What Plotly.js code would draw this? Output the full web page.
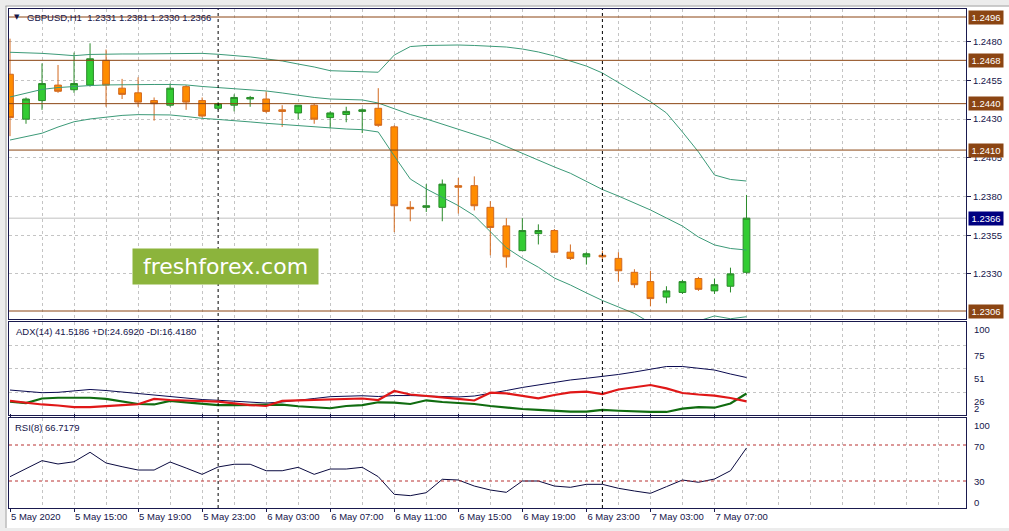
<!DOCTYPE html>
<html>
<head>
<meta charset="utf-8">
<script src="https://cdn.plot.ly/plotly-3.0.1.min.js"></script>
<style>
html,body{margin:0;padding:0;background:#fff;}
#chart{width:1009px;height:531px;}
</style>
</head>
<body>
<div id="chart"></div>
<script>
// ---- data (GBPUSD H1, bar index 0 = 5 May 11:00) ----
const symbolTitle = 'GBPUSD,H1';
const open  = [1.2459,1.2430,1.2442,1.2452,1.2449,1.2452,1.2468,1.2450,1.2447,1.2442,1.2439,1.2451,1.2442,1.2437,1.2439,1.2443,1.2443,1.2436,1.2434,1.2439,1.2431,1.2433,1.2435,1.2437,1.2425,1.2373,1.2373,1.2373,1.2387,1.2387,1.2373,1.2361,1.2345,1.2356,1.2358,1.2344,1.2341,1.2342,1.2340,1.2331,1.2325,1.2315,1.2318,1.2327,1.2319,1.2322,1.2331];
const high  = [1.2482,1.2444,1.2466,1.2465,1.2473,1.2479,1.2475,1.2456,1.2457,1.2444,1.2453,1.2452,1.2444,1.2441,1.2446,1.2445,1.2448,1.2439,1.2439,1.2440,1.2435,1.2438,1.2437,1.2450,1.2426,1.2377,1.2388,1.2391,1.2392,1.2393,1.2377,1.2366,1.2366,1.2362,1.2359,1.2349,1.2344,1.2345,1.2344,1.2333,1.2332,1.2322,1.2326,1.2328,1.2327,1.2334,1.2381];
const low   = [1.2419,1.2427,1.2436,1.2447,1.2447,1.2451,1.2438,1.2443,1.2438,1.2429,1.2438,1.2436,1.2431,1.2436,1.2435,1.2438,1.2434,1.2425,1.2430,1.2427,1.2424,1.2428,1.2421,1.2425,1.2357,1.2364,1.2370,1.2364,1.2369,1.2371,1.2342,1.2334,1.2345,1.2349,1.2344,1.2339,1.2336,1.2339,1.2325,1.2321,1.2309,1.2311,1.2317,1.2319,1.2317,1.2318,1.2330];
const close = [1.2431,1.2443,1.2453,1.2448,1.2453,1.2469,1.2452,1.2446,1.2441,1.2440,1.2450,1.2441,1.2432,1.2440,1.2444,1.2444,1.2435,1.2435,1.2439,1.2430,1.2434,1.2435,1.2436,1.2426,1.2374,1.2372,1.2374,1.2388,1.2386,1.2374,1.2360,1.2341,1.2358,1.2358,1.2344,1.2340,1.2343,1.2341,1.2332,1.2323,1.2314,1.2319,1.2325,1.2320,1.2323,1.2330,1.2366];

const bbUpper  = [1.24732,1.24729,1.24725,1.24718,1.24710,1.24718,1.24721,1.24721,1.24721,1.24723,1.24725,1.24725,1.24725,1.24719,1.24711,1.24702,1.24689,1.24676,1.24656,1.24637,1.24613,1.24609,1.24607,1.24603,1.24714,1.24769,1.24776,1.24779,1.24779,1.24776,1.24773,1.24766,1.24753,1.24734,1.24708,1.24676,1.24643,1.24598,1.24534,1.24475,1.24413,1.24340,1.24217,1.24088,1.23939,1.23910,1.23900];
const bbMiddle = [1.24443,1.24469,1.24492,1.24504,1.24512,1.24517,1.24521,1.24523,1.24524,1.24524,1.24524,1.24521,1.24511,1.24504,1.24498,1.24492,1.24482,1.24469,1.24453,1.24440,1.24430,1.24427,1.24424,1.24404,1.24366,1.24330,1.24301,1.24269,1.24236,1.24201,1.24168,1.24123,1.24078,1.24033,1.23991,1.23950,1.23900,1.23845,1.23803,1.23758,1.23713,1.23661,1.23609,1.23538,1.23487,1.23464,1.23454];
const bbLower  = [1.24165,1.24185,1.24209,1.24249,1.24283,1.24301,1.24314,1.24324,1.24329,1.24329,1.24327,1.24317,1.24305,1.24298,1.24288,1.24282,1.24273,1.24265,1.24259,1.24249,1.24241,1.24236,1.24232,1.24217,1.24062,1.23913,1.23849,1.23797,1.23741,1.23676,1.23573,1.23469,1.23401,1.23343,1.23273,1.23228,1.23177,1.23128,1.23086,1.23044,1.22983,1.22957,1.22963,1.22996,1.23028,1.23010,1.23023];

const adx     = [28.3,26.8,25.5,25.9,27.3,28.9,27.8,26.2,24.1,23.1,21.3,19.4,18.3,17.5,16.4,15.2,14.6,15.7,17.3,19.4,21.3,22.0,22.3,21.5,22.5,22.5,22.0,21.5,21.0,22.0,24.7,27.8,31.0,33.6,36.2,38.9,40.7,42.4,44.7,47.3,50.5,53.1,53.1,51.5,49.4,45.2,41.5186];
const plusDI  = [16.0,14.6,19.4,20.2,20.2,20.2,18.9,16.2,13.6,13.1,16.8,15.2,13.6,12.5,12.5,12.5,12.5,12.9,11.2,9.9,9.1,11.5,12.5,15.4,15.0,13.6,17.5,15.7,14.6,13.6,11.5,9.7,8.3,7.3,6.2,5.5,5.5,7.3,6.5,5.5,5.2,5.2,8.8,10.4,9.7,14.1,24.6920];
const minusDI = [16.8,14.6,13.1,12.0,10.4,10.4,11.8,12.5,13.3,18.9,17.8,17.3,17.1,16.0,14.3,12.5,11.5,16.8,17.5,17.8,18.1,18.5,19.4,17.8,27.3,23.6,22.3,21.0,18.9,17.3,25.5,24.7,22.0,19.6,23.1,25.9,26.6,24.1,28.9,31.0,33.6,30.1,25.2,23.6,22.5,19.9,16.4180];
const rsi     = [34.8,43.9,52.6,48.9,51.4,61.9,50.0,45.9,42.2,42.2,51.1,44.4,37.4,45.6,48.6,48.6,41.4,41.4,45.2,37.4,43.3,43.3,45.2,34.8,15.2,13.7,17.0,31.9,31.1,24.4,20.0,17.4,30.0,30.0,24.4,23.0,26.3,26.3,21.9,18.9,16.3,23.7,31.1,28.6,32.2,41.4,66.7179];

const timeLabels = ['5 May 2020','5 May 15:00','5 May 19:00','5 May 23:00','6 May 03:00','6 May 07:00','6 May 11:00','6 May 15:00','6 May 19:00','6 May 23:00','7 May 03:00','7 May 07:00'];
const barsPerLabel = 4;
const daySeparatorBars = [13, 37];           // 6 May 00:00, 7 May 00:00
const levelLines = [1.2496, 1.2468, 1.2440, 1.2410, 1.2306];
const priceTicks = [1.2330, 1.2355, 1.2380, 1.2405, 1.2430, 1.2455, 1.2480];
const adxGrid = [26, 51, 75];
const adxLabels = ['100','75','51','26','2'];
const rsiLevels = [30, 70];
const rsiLabels = ['100','70','30','0'];
const watermark = 'freshforex.com';

// ---- derived ----
const xs = close.map((_, i) => i);
const last = close.length - 1;
const tickIdx = timeLabels.map((_, i) => i * barsPerLabel);
const fmt = v => v.toFixed(4);

const FONT = 'Liberation Sans, Arial, sans-serif';
const TXT = '#14144a';
const FRAME = '#1a1a4e';
const GRID = '#c4c4c4';

// pixel helpers for paper placement (plot area 9..966 x 9..508)
const PX = px => (px - 9) / 957;
const PY = py => (508 - py) / 499;

const traces = [
  {
    type: 'candlestick', x: xs, open: open, high: high, low: low, close: close,
    xaxis: 'x', yaxis: 'y', whiskerwidth: 0,
    increasing: {line: {color: '#2a8a2a', width: 1}, fillcolor: '#33cc33'},
    decreasing: {line: {color: '#d2691e', width: 1}, fillcolor: '#ff8c00'},
    hoverinfo: 'skip'
  },
  {type: 'scatter', mode: 'lines', x: xs, y: bbUpper, yaxis: 'y', line: {color: '#3c9a78', width: 1}, hoverinfo: 'skip'},
  {type: 'scatter', mode: 'lines', x: xs, y: bbMiddle, yaxis: 'y', line: {color: '#3c9a78', width: 1}, hoverinfo: 'skip'},
  {type: 'scatter', mode: 'lines', x: xs, y: bbLower, yaxis: 'y', line: {color: '#3c9a78', width: 1}, hoverinfo: 'skip'},
  {type: 'scatter', mode: 'lines', x: xs, y: adx, yaxis: 'y2', line: {color: '#0a0a50', width: 1}, hoverinfo: 'skip'},
  {type: 'scatter', mode: 'lines', x: xs, y: plusDI, yaxis: 'y2', line: {color: '#106c10', width: 2.2}, hoverinfo: 'skip'},
  {type: 'scatter', mode: 'lines', x: xs, y: minusDI, yaxis: 'y2', line: {color: '#e01818', width: 2.2}, hoverinfo: 'skip'},
  {type: 'scatter', mode: 'lines', x: xs, y: rsi, yaxis: 'y3', line: {color: '#0a0a40', width: 1}, hoverinfo: 'skip'}
];

const shapes = [];
// window chrome
shapes.push({type:'rect', xref:'paper', yref:'paper', x0:PX(0), x1:PX(1009), y0:PY(5.5), y1:PY(0), fillcolor:'#ececec', line:{width:0}, layer:'above'});
shapes.push({type:'line', xref:'paper', yref:'paper', x0:PX(0), x1:PX(1009), y0:PY(6), y1:PY(6), line:{color:'#9a9a9a', width:1}, layer:'above'});
shapes.push({type:'rect', xref:'paper', yref:'paper', x0:PX(0), x1:PX(5.5), y0:PY(531), y1:PY(0), fillcolor:'#ececec', line:{width:0}, layer:'above'});
shapes.push({type:'line', xref:'paper', yref:'paper', x0:PX(6), x1:PX(6), y0:PY(531), y1:PY(6), line:{color:'#9a9a9a', width:1}, layer:'above'});
shapes.push({type:'rect', xref:'paper', yref:'paper', x0:PX(0), x1:PX(1009), y0:PY(531), y1:PY(528), fillcolor:'#ececec', line:{width:0}, layer:'above'});
// level lines
levelLines.forEach(v => shapes.push({type:'line', xref:'paper', yref:'y', x0:0, x1:1, y0:v, y1:v, line:{color:'#8b4513', width:1}}));
// bid line
shapes.push({type:'line', xref:'paper', yref:'y', x0:0, x1:1, y0:close[last], y1:close[last], line:{color:'#c0c0c0', width:1}, layer:'below'});
// RSI levels
rsiLevels.forEach(v => shapes.push({type:'line', xref:'paper', yref:'y3', x0:0, x1:1, y0:v, y1:v, line:{color:'#b83030', width:1, dash:'3px,3px'}}));
// day separators
daySeparatorBars.forEach(b => shapes.push({type:'line', xref:'x', yref:'paper', x0:b, x1:b, y0:0, y1:1, line:{color:'#000000', width:1, dash:'3px,3px'}}));

const annotations = [];
const boxFont = {family: FONT, size: 9.5, color: '#ffffff'};
levelLines.forEach(v => annotations.push({
  xref:'paper', yref:'y', x:PX(968), y:v, xanchor:'left', yanchor:'middle',
  text: fmt(v), showarrow:false, font: boxFont, bgcolor:'#8b4513',
  width:32, height:11, borderpad:1, align:'center'
}));
annotations.push({
  xref:'paper', yref:'y', x:PX(968), y:close[last], xanchor:'left', yanchor:'middle',
  text: fmt(close[last]), showarrow:false, font: boxFont, bgcolor:'#000080',
  width:32, height:11, borderpad:1, align:'center'
});
// headers
annotations.push({xref:'paper', yref:'paper', x:PX(12), y:PY(17), xanchor:'left', yanchor:'middle', text:'▼', showarrow:false, font:{family:'DejaVu Sans', size:7, color:TXT}});
annotations.push({xref:'paper', yref:'paper', x:PX(25), y:PY(17), xanchor:'left', yanchor:'middle', showarrow:false,
  text: symbolTitle + '  ' + [open[last], high[last], low[last], close[last]].map(fmt).join(' '), font:{family:FONT, size:9.5, color:TXT}});
annotations.push({xref:'paper', yref:'paper', x:PX(14), y:PY(331), xanchor:'left', yanchor:'middle', showarrow:false,
  text: 'ADX(14) ' + adx[last].toFixed(4) + ' +DI:' + plusDI[last].toFixed(4) + ' -DI:' + minusDI[last].toFixed(4), font:{family:FONT, size:9.5, color:TXT}});
annotations.push({xref:'paper', yref:'paper', x:PX(13), y:PY(427), xanchor:'left', yanchor:'middle', showarrow:false,
  text: 'RSI(8) ' + rsi[last].toFixed(4), font:{family:FONT, size:9.5, color:TXT}});
// sub-window scale labels
const adxLabelPx = [329, 355, 378, 401, 408.5];
adxLabels.forEach((t, i) => annotations.push({xref:'paper', yref:'paper', x:PX(972), y:PY(adxLabelPx[i]), xanchor:'left', yanchor:'middle', text:t, showarrow:false, font:{family:FONT, size:9.5, color:TXT}}));
const rsiLabelPx = [425, 446, 481, 502];
rsiLabels.forEach((t, i) => annotations.push({xref:'paper', yref:'paper', x:PX(972), y:PY(rsiLabelPx[i]), xanchor:'left', yanchor:'middle', text:t, showarrow:false, font:{family:FONT, size:9.5, color:TXT}}));
// watermark
annotations.push({xref:'paper', yref:'paper', x:PX(225.5), y:PY(266.5), xanchor:'center', yanchor:'middle', text:watermark, showarrow:false,
  font:{family:'DejaVu Sans', size:22, color:'#ffffff'}, bgcolor:'#8cb43c', width:181, height:31, borderpad:2});

const layout = {
  width: 1009, height: 531,
  margin: {l: 9, r: 43, t: 9, b: 23, pad: 0},
  paper_bgcolor: '#ffffff', plot_bgcolor: '#ffffff',
  showlegend: false, boxgap: 0.4, hovermode: false,
  font: {family: FONT, size: 9.5, color: TXT},
  xaxis: {
    anchor: 'y3', range: [-0.0625, 59.71], rangeslider: {visible: false},
    tickmode: 'array', tickvals: tickIdx, ticktext: timeLabels,
    ticks: 'outside', ticklen: 3, tickcolor: FRAME, ticklabelposition: 'outside right',
    tickfont: {family: FONT, size: 9.5, color: TXT},
    showgrid: true, gridcolor: GRID, griddash: '3px,3px', gridwidth: 1,
    minor: {dtick: 2, tick0: 0, showgrid: true, gridcolor: GRID, griddash: '3px,3px', ticks: ''},
    showline: true, linecolor: FRAME, linewidth: 1, mirror: 'all', zeroline: false, fixedrange: true
  },
  yaxis: {
    domain: [PY(319), 1], range: [1.230083, 1.250117], side: 'right', anchor: 'x',
    tickmode: 'array', tickvals: priceTicks, ticktext: priceTicks.map(fmt),
    ticks: 'outside', ticklen: 4, tickcolor: FRAME, tickfont: {family: FONT, size: 9.5, color: TXT},
    showgrid: true, gridcolor: GRID, griddash: '3px,3px',
    showline: true, linecolor: FRAME, mirror: true, zeroline: false
  },
  yaxis2: {
    domain: [PY(415), PY(322)], range: [2, 100], side: 'right', anchor: 'x',
    tickmode: 'array', tickvals: adxGrid, showticklabels: false, ticks: '',
    showgrid: true, gridcolor: GRID, griddash: '3px,3px',
    showline: true, linecolor: FRAME, mirror: true, zeroline: false
  },
  yaxis3: {
    domain: [0, PY(418)], range: [0, 100], side: 'right', anchor: 'x',
    showticklabels: false, ticks: '', showgrid: false,
    showline: true, linecolor: FRAME, mirror: true, zeroline: false
  },
  shapes: shapes,
  annotations: annotations
};

Plotly.newPlot('chart', traces, layout, {displayModeBar: false, staticPlot: true});
</script>
</body>
</html>
